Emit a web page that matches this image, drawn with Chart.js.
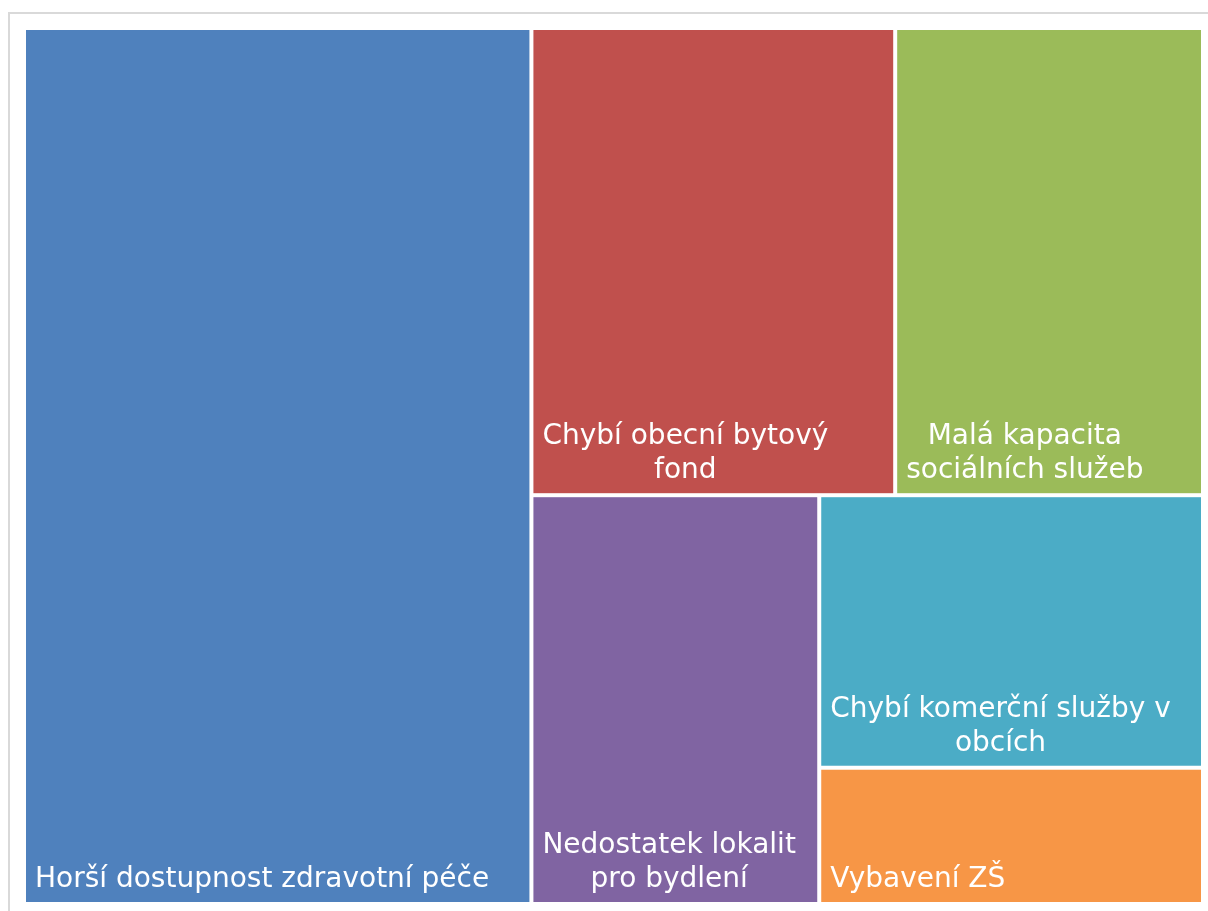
<!DOCTYPE html>
<html>
<head>
<meta charset="utf-8">
<title>Treemap</title>
<script src="https://cdn.jsdelivr.net/npm/chart.js@4.4.1/dist/chart.umd.min.js"></script>
<style>
  html, body { margin: 0; padding: 0; background: #fff; }
  #wrap { width: 1208px; height: 911px; }
</style>
</head>
<body>
<div id="wrap"><canvas id="chart" width="1208" height="911"></canvas></div>
<script>
// data (sorted largest first, as the treemap lays them out)
const categories = [
  ["Horší dostupnost zdravotní péče"],
  ["Chybí obecní bytový", "fond"],
  ["Malá kapacita", "sociálních služeb"],
  ["Nedostatek lokalit", "pro bydlení"],
  ["Chybí komerční služby v", "obcích"],
  ["Vybavení ZŠ"]
];
const values = [34, 13, 11, 9, 8, 4];
const colors = ["#4F81BD", "#C0504D", "#9BBB59", "#8064A2", "#4BACC6", "#F79646"];

// squarified layout in a w x h box, returns rects in fractions of the box
function squarify(vals, w, h) {
  const total = vals.reduce((a, b) => a + b, 0);
  const W = w, H = h;
  let items = vals.map((v, i) => ({ i, area: v / total * w * h }));
  let x = 0, y = 0;
  const out = [];
  const worst = (row, side) => {
    const s = row.reduce((a, r) => a + r.area, 0);
    const mx = Math.max(...row.map(r => r.area));
    const mn = Math.min(...row.map(r => r.area));
    return Math.max(side * side * mx / (s * s), (s * s) / (side * side * mn));
  };
  while (items.length) {
    const side = Math.min(w, h);
    const row = [items[0]];
    let k = 1;
    while (k < items.length && worst(row.concat(items[k]), side) <= worst(row, side)) {
      row.push(items[k]);
      k++;
    }
    const rowArea = row.reduce((a, r) => a + r.area, 0);
    if (w >= h) {
      const cw = rowArea / h;
      let cy = y;
      row.forEach(r => {
        const rh = r.area / cw;
        out[r.i] = { x0: x / W, x1: (x + cw) / W, y0: cy / H, y1: (cy + rh) / H };
        cy += rh;
      });
      x += cw; w -= cw;
    } else {
      const rh = rowArea / w;
      let cx = x;
      row.forEach(r => {
        const rw = r.area / rh;
        out[r.i] = { x0: cx / W, x1: (cx + rw) / W, y0: y / H, y1: (y + rh) / H };
        cx += rw;
      });
      y += rh; h -= rh;
    }
    items = items.slice(row.length);
  }
  return out;
}

const treemapPlugin = {
  id: "treemapCells",
  beforeDraw(chart) {
    // light grey frame around the chart, as in the original
    const ctx = chart.ctx;
    ctx.save();
    ctx.strokeStyle = "#d9d9d9";
    ctx.lineWidth = 2;
    ctx.beginPath();
    ctx.moveTo(9, 1000);
    ctx.lineTo(9, 13);
    ctx.lineTo(1300, 13);
    ctx.stroke();
    ctx.restore();
  },
  afterDatasetsDraw(chart) {
    const ctx = chart.ctx;
    const area = chart.chartArea;
    const xs = chart.scales.x, ys = chart.scales.y;
    const ds = chart.data.datasets[0];
    const rects = squarify(ds.tree, area.right - area.left, area.bottom - area.top);
    const gap = 2, pad = 9, lineH = 34;
    ctx.save();
    rects.forEach((r, i) => {
      const left = xs.getPixelForValue(r.x0) + gap;
      const right = xs.getPixelForValue(r.x1) - gap;
      const top = ys.getPixelForValue(r.y0) + gap;
      const bottom = ys.getPixelForValue(r.y1) - gap;
      ctx.fillStyle = ds.treeColors[i];
      ctx.fillRect(left, top, right - left, bottom - top);

      const lines = chart.data.labels[i];
      ctx.font = "28px 'DejaVu Sans', sans-serif";
      ctx.fillStyle = "#ffffff";
      ctx.textAlign = "center";
      ctx.textBaseline = "alphabetic";
      const blockW = Math.max(...lines.map(l => ctx.measureText(l).width));
      const cx = left + pad + blockW / 2;
      lines.forEach((l, j) => {
        const base = bottom - 15 - (lines.length - 1 - j) * lineH;
        ctx.fillText(l, cx, base);
      });
    });
    ctx.restore();
  }
};

new Chart(document.getElementById("chart"), {
  type: "scatter",
  data: {
    labels: categories,
    datasets: [{ data: [], tree: values, treeColors: colors }]
  },
  options: {
    responsive: false,
    animation: false,
    layout: { padding: { left: 24, top: 28, right: 5, bottom: 7 } },
    plugins: { legend: { display: false }, tooltip: { enabled: false } },
    scales: {
      x: { type: "linear", min: 0, max: 1, display: false },
      y: { type: "linear", min: 0, max: 1, reverse: true, display: false }
    }
  },
  plugins: [treemapPlugin]
});
</script>
</body>
</html>
